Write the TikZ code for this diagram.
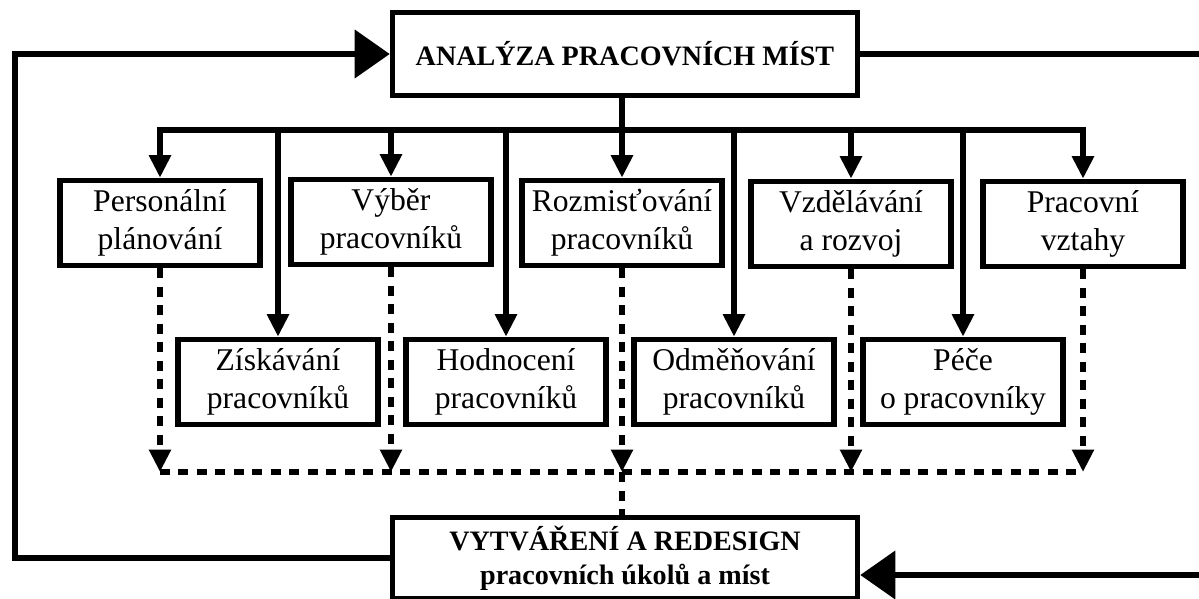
\documentclass[tikz,border=0pt]{standalone}
\usepackage{fontspec}
\setmainfont{Liberation Serif}
\usepackage{tikz}
\usetikzlibrary{arrows.meta}
\usetikzlibrary{positioning}
\tikzset{hr-line/.style={line width=3.2pt}}
\tikzset{hr-box/.style={draw, line width=3.2pt, inner sep=0, align=center, minimum width=4cm, minimum height=1.7cm, font=\fontsize{18}{21.5}\selectfont}}
\tikzset{main-box/.style={hr-box, minimum width=9.3cm, minimum height=1.66cm, font=\fontsize{16}{19.5}\selectfont\bfseries}}
\tikzset{tree-arrow/.style={hr-line, -{Triangle[length=0.45cm, width=0.42cm]}}}
\tikzset{loop-arrow/.style={hr-line, -{Triangle[length=0.7cm, width=0.95cm]}}}
\tikzset{dash-line/.style={line width=3.2pt, dash pattern=on 0.2cm off 0.17cm}}
\tikzset{dash-arrow/.style={dash-line, -{Triangle[length=0.45cm, width=0.42cm]}}}
\begin{document}
\begin{tikzpicture}[x=0.02cm, y=-0.02cm]
    \useasboundingbox[fill=white] (0,0) rectangle (1199,598);

    % main boxes
    \node[main-box] (analyza) at (625,54) {ANALÝZA PRACOVNÍCH MÍST};
    \node[main-box, minimum height=1.62cm] (vytvareni) at (625,558) {VYTVÁŘENÍ A REDESIGN\\pracovních úkolů a míst};

    % upper row
    \node[hr-box] (planovani) at (160,223) {Personální\\plánování};
    \node[hr-box] (vyber) at (391,222) {Výběr\\pracovníků};
    \node[hr-box] (rozmistovani) at (622,223) {Rozmisťování\\pracovníků};
    \node[hr-box] (vzdelavani) at (851,224) {Vzdělávání\\a rozvoj};
    \node[hr-box] (vztahy) at (1083,224) {Pracovní\\vztahy};

    % lower row
    \node[hr-box] (ziskavani) at (278,382) {Získávání\\pracovníků};
    \node[hr-box] (hodnoceni) at (506,382) {Hodnocení\\pracovníků};
    \node[hr-box] (odmenovani) at (734,382) {Odměňování\\pracovníků};
    \node[hr-box] (pece) at (963,382) {Péče\\o pracovníky};

    \coordinate (bus) at (0,130);
    \coordinate (dbus) at (0,472);
    \coordinate (right-top) at (1199,54);
    \coordinate (right-bottom) at (1199,575);

    % feedback loop
    \draw[loop-arrow] (vytvareni.west) -- ++(-375,0) |- (analyza.west);
    \draw[hr-line] (analyza.east) -- (right-top);
    \draw[loop-arrow] (right-bottom) -- (vytvareni.east |- right-bottom);

    % solid tree
    \draw[hr-line] (rozmistovani.north |- analyza.south) -- (rozmistovani.north |- bus);
    \draw[tree-arrow] (rozmistovani.north |- bus) -- (planovani.north |- bus) -- (planovani.north);
    \draw[tree-arrow] (rozmistovani.north |- bus) -| (vztahy.north);
    \draw[tree-arrow] (vyber.north |- bus) -- (vyber.north);
    \draw[tree-arrow] (rozmistovani.north |- bus) -- (rozmistovani.north);
    \draw[tree-arrow] (vzdelavani.north |- bus) -- (vzdelavani.north);
    \draw[tree-arrow] (ziskavani.north |- bus) -- (ziskavani.north);
    \draw[tree-arrow] (hodnoceni.north |- bus) -- (hodnoceni.north);
    \draw[tree-arrow] (odmenovani.north |- bus) -- (odmenovani.north);
    \draw[tree-arrow] (pece.north |- bus) -- (pece.north);

    % dashed feedback
    \draw[dash-arrow] (planovani.south) -- (planovani.south |- dbus);
    \draw[dash-arrow] (vyber.south) -- (vyber.south |- dbus);
    \draw[dash-arrow] (rozmistovani.south) -- (rozmistovani.south |- dbus);
    \draw[dash-arrow] (vzdelavani.south) -- (vzdelavani.south |- dbus);
    \draw[dash-arrow] (vztahy.south) -- (vztahy.south |- dbus);
    \draw[dash-line] (planovani.south |- dbus) -- (vztahy.south |- dbus);
    \draw[dash-line] (rozmistovani.south |- dbus) -- (rozmistovani.south |- vytvareni.north);
\end{tikzpicture}
\end{document}
